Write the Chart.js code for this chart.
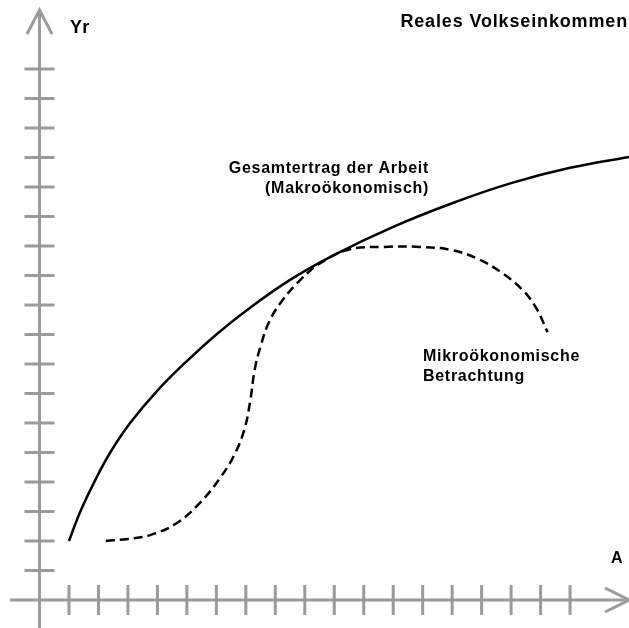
<!DOCTYPE html>
<html>
<head>
<meta charset="utf-8">
<script src="https://cdn.jsdelivr.net/npm/chart.js@4"></script>
<style>
  html, body { margin: 0; padding: 0; background: #fff; }
  #wrap { width: 629px; height: 628px; position: relative; }
</style>
</head>
<body>
<div id="wrap"><canvas id="chart"></canvas></div>
<script>
// Gesamtertrag (solid), in tick units
const macroX = [1, 1.4, 1.9, 2.4, 3.1, 4, 5, 6, 7, 8.5, 10, 12, 14, 16, 18, 20];
const macroY = [2.0, 3.03, 4.08, 5.0, 6.03, 7.1, 8.1, 9.0, 9.8, 10.85, 11.7, 12.65, 13.45, 14.13, 14.65, 15.02];

// Mikroökonomische Betrachtung (dashed)
const microX = [2.25, 3.0, 3.75, 4.65, 5.45, 6.1, 6.6, 6.95, 7.15, 7.3, 7.5, 7.8, 8.25, 8.85, 9.5, 10.5, 11.7, 12.9, 14.0, 14.9, 15.7, 16.4, 16.85, 17.24];
const microY = [2.0, 2.07, 2.2, 2.6, 3.3, 4.1, 4.9, 5.78, 6.75, 7.8, 8.6, 9.45, 10.17, 10.85, 11.4, 11.88, 11.97, 11.97, 11.86, 11.55, 11.08, 10.5, 9.9, 9.08];

const xTicks = [1, 2, 3, 4, 5, 6, 7, 8, 9, 10, 11, 12, 13, 14, 15, 16, 17, 18];
const yTicks = [1, 2, 3, 4, 5, 6, 7, 8, 9, 10, 11, 12, 13, 14, 15, 16, 17, 18];

const toPoints = (xs, ys) => xs.map((x, i) => ({ x: x, y: ys[i] }));

const AXIS = "#9b9b9b";
const FONT = "'Liberation Sans', Arial, sans-serif";

// axes with crossing ticks and arrow heads
const axesPlugin = {
  id: "axes",
  beforeDatasetsDraw(chart) {
    const { ctx, scales: { x, y } } = chart;
    const x0 = x.getPixelForValue(0);
    const y0 = y.getPixelForValue(0);
    ctx.save();
    ctx.strokeStyle = AXIS;
    ctx.lineWidth = 3;
    ctx.lineCap = "butt";
    ctx.beginPath();
    ctx.moveTo(x.getPixelForValue(-1), y0);
    ctx.lineTo(x.getPixelForValue(20), y0);
    ctx.moveTo(x0, y.getPixelForValue(-1));
    ctx.lineTo(x0, y.getPixelForValue(20));
    xTicks.forEach(v => {
      const px = x.getPixelForValue(v);
      ctx.moveTo(px, y0 - 15);
      ctx.lineTo(px, y0 + 15);
    });
    yTicks.forEach(v => {
      const py = y.getPixelForValue(v);
      ctx.moveTo(x0 - 15, py);
      ctx.lineTo(x0 + 15, py);
    });
    ctx.stroke();
    // arrows
    const tipY = y.getPixelForValue(20);
    const tipX = x.getPixelForValue(20);
    ctx.beginPath();
    ctx.moveTo(x0 - 12.5, tipY + 24);
    ctx.lineTo(x0, tipY);
    ctx.lineTo(x0 + 12.5, tipY + 24);
    ctx.moveTo(tipX - 24, y0 - 12);
    ctx.lineTo(tipX, y0);
    ctx.lineTo(tipX - 24, y0 + 12);
    ctx.stroke();
    ctx.restore();
  },
  afterDraw(chart) {
    const { ctx } = chart;
    ctx.save();
    ctx.fillStyle = "#000";
    ctx.textBaseline = "middle";
    const txt = (s, px, py, size, align, ls) => {
      ctx.font = "bold " + size + "px " + FONT;
      ctx.letterSpacing = ls + "px";
      ctx.textAlign = align;
      ctx.fillText(s, px, py);
    };
    txt("Yr", 70, 28, 18, "left", 0.3);
    txt("Reales Volkseinkommen", 628, 22, 18, "right", 0.85);
    txt("Gesamtertrag der Arbeit", 429, 169, 16, "right", 0.7);
    txt("(Makroökonomisch)", 429, 189, 16, "right", 0.7);
    txt("Mikroökonomische", 423, 357, 16, "left", 0.7);
    txt("Betrachtung", 423, 377, 16, "left", 0.7);
    txt("A", 611, 559, 16, "left", 0);
    ctx.restore();
  }
};

new Chart(document.getElementById("chart"), {
  type: "scatter",
  data: {
    datasets: [
      {
        label: "Gesamtertrag der Arbeit",
        data: toPoints(macroX, macroY),
        showLine: true,
        borderColor: "#000",
        borderWidth: 2.5,
        pointRadius: 0,
        tension: 0.4,
        clip: false,
      },
      {
        label: "Mikroökonomische Betrachtung",
        data: toPoints(microX, microY),
        showLine: true,
        borderColor: "#000",
        borderWidth: 2.5,
        borderDash: [9, 5],
        pointRadius: 0,
        tension: 0.4,
        clip: false,
      },
    ],
  },
  options: {
    responsive: true,
    maintainAspectRatio: false,
    animation: false,
    layout: { padding: { left: 39.5, right: 0, top: 10, bottom: 28 } },
    plugins: { legend: { display: false }, tooltip: { enabled: false } },
    scales: {
      x: { type: "linear", min: 0, max: 20, display: false },
      y: { type: "linear", min: 0, max: 20, display: false },
    },
  },
  plugins: [axesPlugin],
});
</script>
</body>
</html>
